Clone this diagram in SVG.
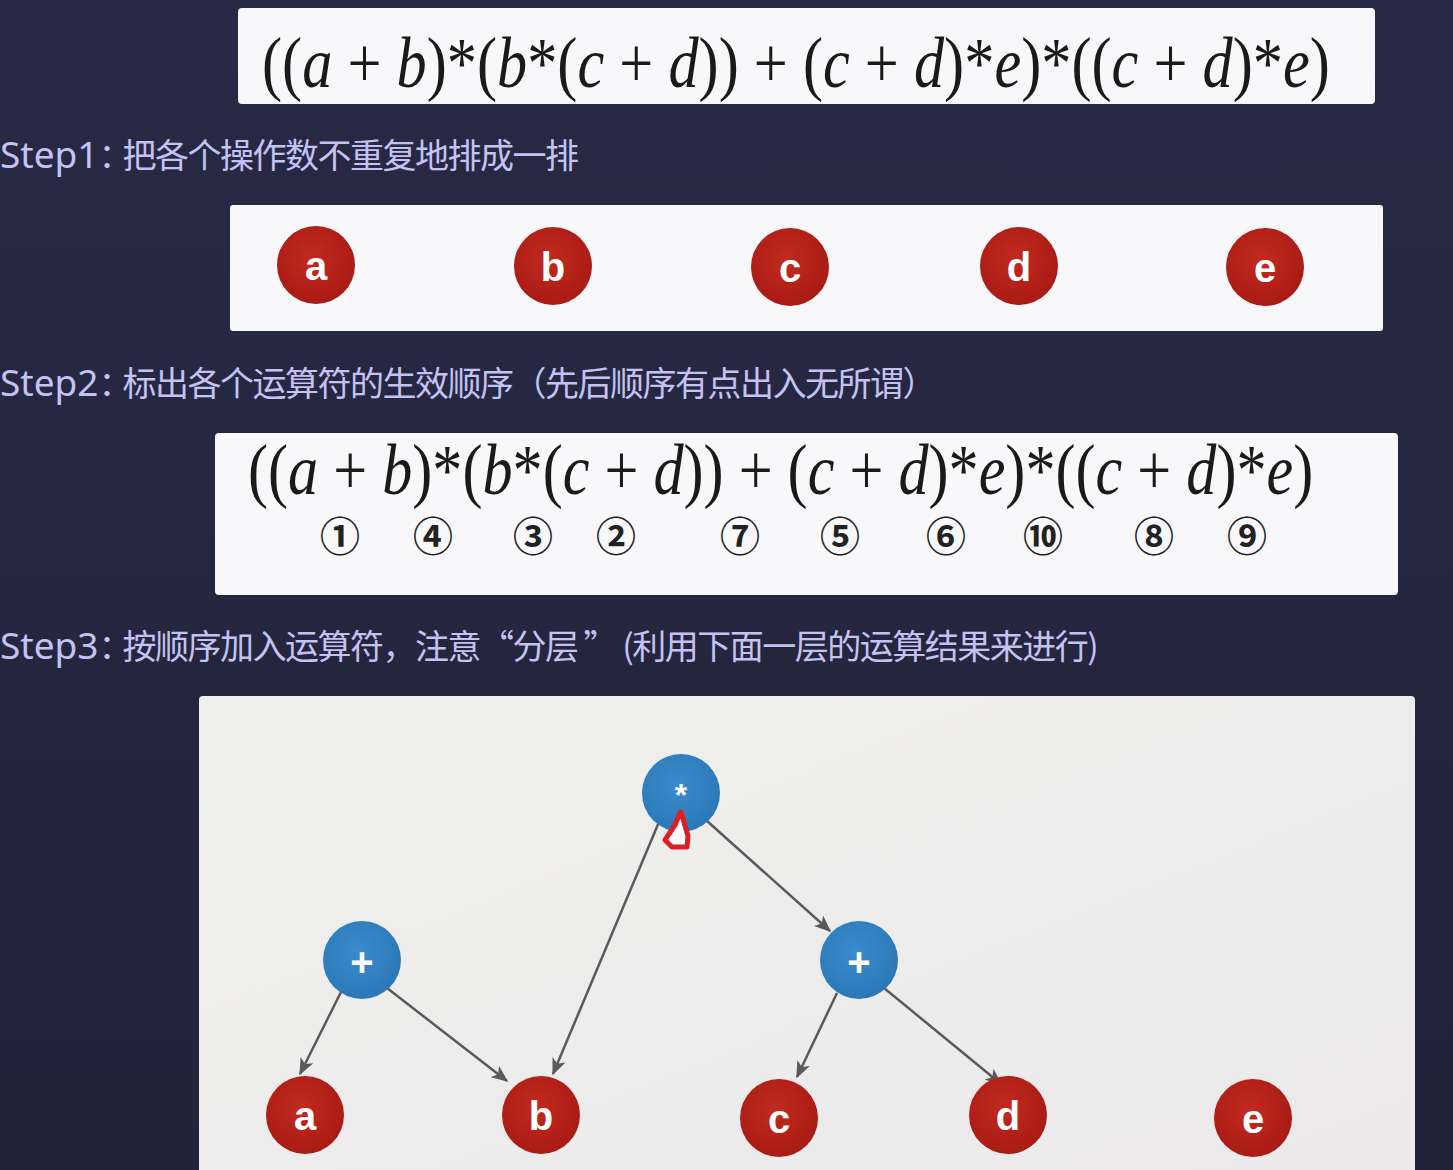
<svg xmlns="http://www.w3.org/2000/svg" width="1453" height="1170" viewBox="0 0 1453 1170">
<defs>
<linearGradient id="bg" x1="0" y1="0" x2="0" y2="1">
<stop offset="0" stop-color="#282a45"/>
<stop offset="1" stop-color="#222339"/>
</linearGradient>
<linearGradient id="panelbg" x1="0" y1="0" x2="1" y2="1">
<stop offset="0" stop-color="#f0f0ee"/>
<stop offset="1" stop-color="#ebe9ea"/>
</linearGradient>
<radialGradient id="red" cx="0.45" cy="0.4" r="0.6">
<stop offset="0" stop-color="#c22a1f"/>
<stop offset="1" stop-color="#a91b15"/>
</radialGradient>
<radialGradient id="blue" cx="0.45" cy="0.4" r="0.6">
<stop offset="0" stop-color="#3a8ccc"/>
<stop offset="1" stop-color="#2b78b8"/>
</radialGradient>
<marker id="arrow" viewBox="0 0 12 10" refX="11" refY="5" markerWidth="17" markerHeight="14" markerUnits="userSpaceOnUse" orient="auto">
<path d="M0,0 L12,5 L0,10 L3,5 z" fill="#5a5a5a"/>
</marker>
</defs>
<style>
.step{font-family:"Noto Sans CJK SC",sans-serif;font-size:34px;letter-spacing:-1.5px;fill:#c4c2f3;}
.lat{font-family:"Noto Sans",sans-serif;font-size:37px;letter-spacing:0;}
.colon{letter-spacing:-10px;}
.panel{fill:#f8f8fa;}
.formula{font-family:"Liberation Serif",serif;font-size:72px;fill:#1a1a1a;}
.it{font-style:italic;}
.num{font-family:"Noto Sans CJK SC","DejaVu Sans",sans-serif;font-size:40px;font-weight:bold;fill:#222;text-anchor:middle;}
.rednode{fill:url(#red);}
.bluenode{fill:url(#blue);}
.lbl{font-family:"Liberation Sans",Arial,sans-serif;font-size:40px;font-weight:bold;fill:#ffffff;text-anchor:middle;}
.op{font-family:"Liberation Sans",Arial,sans-serif;font-size:40px;font-weight:bold;fill:#ffffff;text-anchor:middle;}
.edge{stroke:#5a5a5a;stroke-width:2.5;fill:none;marker-end:url(#arrow);}
</style>
<rect x="0" y="0" width="1453" height="1170" fill="url(#bg)"/>

<!-- Formula panel -->
<g id="formula1">
<rect class="panel" x="238" y="8" width="1137" height="96" rx="4"/>
<text class="formula" transform="translate(262,87) scale(0.838,1)" x="0" y="0">((<tspan class="it">a</tspan> + <tspan class="it">b</tspan>)*(<tspan class="it">b</tspan>*(<tspan class="it">c</tspan> + <tspan class="it">d</tspan>)) + (<tspan class="it">c</tspan> + <tspan class="it">d</tspan>)*<tspan class="it">e</tspan>)*((<tspan class="it">c</tspan> + <tspan class="it">d</tspan>)*<tspan class="it">e</tspan>)</text>
</g>

<text id="step1" class="step" x="0" y="168"><tspan class="lat">Step1</tspan><tspan class="colon">：</tspan>把各个操作数不重复地排成一排</text>

<!-- Operand row panel -->
<g id="operands">
<rect class="panel" x="230" y="205" width="1153" height="126" rx="3"/>
<g id="op-a"><circle class="rednode" cx="316" cy="265" r="39"/><text class="lbl" x="316" y="280">a</text></g>
<g id="op-b"><circle class="rednode" cx="553" cy="266" r="39"/><text class="lbl" x="553" y="281">b</text></g>
<g id="op-c"><circle class="rednode" cx="790" cy="267" r="39"/><text class="lbl" x="790" y="282">c</text></g>
<g id="op-d"><circle class="rednode" cx="1019" cy="266" r="39"/><text class="lbl" x="1019" y="281">d</text></g>
<g id="op-e"><circle class="rednode" cx="1265" cy="267" r="39"/><text class="lbl" x="1265" y="282">e</text></g>
</g>

<text id="step2" class="step" x="0" y="396"><tspan class="lat">Step2</tspan><tspan class="colon">：</tspan>标出各个运算符的生效顺序（先后顺序有点出入无所谓）</text>

<!-- Step2 panel -->
<g id="formula2">
<rect class="panel" x="215" y="433" width="1183" height="162" rx="4"/>
<text class="formula" transform="translate(248,494) scale(0.836,1)" x="0" y="0">((<tspan class="it">a</tspan> + <tspan class="it">b</tspan>)*(<tspan class="it">b</tspan>*(<tspan class="it">c</tspan> + <tspan class="it">d</tspan>)) + (<tspan class="it">c</tspan> + <tspan class="it">d</tspan>)*<tspan class="it">e</tspan>)*((<tspan class="it">c</tspan> + <tspan class="it">d</tspan>)*<tspan class="it">e</tspan>)</text>
<text class="num" x="340" y="551">①</text>
<text class="num" x="433" y="551">④</text>
<text class="num" x="533" y="551">③</text>
<text class="num" x="616" y="551">②</text>
<text class="num" x="740" y="551">⑦</text>
<text class="num" x="840" y="551">⑤</text>
<text class="num" x="946" y="551">⑥</text>
<text class="num" x="1043" y="551">⑩</text>
<text class="num" x="1154" y="551">⑧</text>
<text class="num" x="1247" y="551">⑨</text>
</g>

<text id="step3" class="step" x="0" y="659"><tspan class="lat">Step3</tspan><tspan class="colon">：</tspan>按顺序加入运算符，注意“分层 ” (利用下面一层的运算结果来进行)</text>

<!-- Tree panel -->
<rect x="199" y="696" width="1216" height="480" rx="4" fill="url(#panelbg)"/>

<g id="connectors">
<line class="edge" x1="343" y1="988" x2="300" y2="1074"/>
<line class="edge" x1="387" y1="988" x2="507" y2="1081"/>
<line class="edge" x1="659" y1="822" x2="553" y2="1074"/>
<line class="edge" x1="707" y1="821" x2="830" y2="931"/>
<line class="edge" x1="837" y1="993" x2="797" y2="1077"/>
<line class="edge" x1="884" y1="988" x2="1001" y2="1084"/>
</g>

<g id="n-mul"><circle class="bluenode" cx="681" cy="793" r="39"/><text class="op" x="681" y="806" style="font-size:32px">*</text></g>
<g id="n-plus1"><circle class="bluenode" cx="362" cy="960" r="39"/><text class="op" x="362" y="976">+</text></g>
<g id="n-plus2"><circle class="bluenode" cx="859" cy="960" r="39"/><text class="op" x="859" y="976">+</text></g>

<g id="t-a"><circle class="rednode" cx="305" cy="1115" r="39"/><text class="lbl" x="305" y="1130">a</text></g>
<g id="t-b"><circle class="rednode" cx="541" cy="1115" r="39"/><text class="lbl" x="541" y="1130">b</text></g>
<g id="t-c"><circle class="rednode" cx="779" cy="1118" r="39"/><text class="lbl" x="779" y="1133">c</text></g>
<g id="t-d"><circle class="rednode" cx="1008" cy="1115" r="39"/><text class="lbl" x="1008" y="1130">d</text></g>
<g id="t-e"><circle class="rednode" cx="1253" cy="1118" r="39"/><text class="lbl" x="1253" y="1133">e</text></g>

<path id="red-mark" d="M681,812 L688,836 L687,847 L672,847 L665,840 L675,825 L680,813" fill="#ffffff" stroke="#dd1f24" stroke-width="5" stroke-linejoin="round" stroke-linecap="round"/>
</svg>
